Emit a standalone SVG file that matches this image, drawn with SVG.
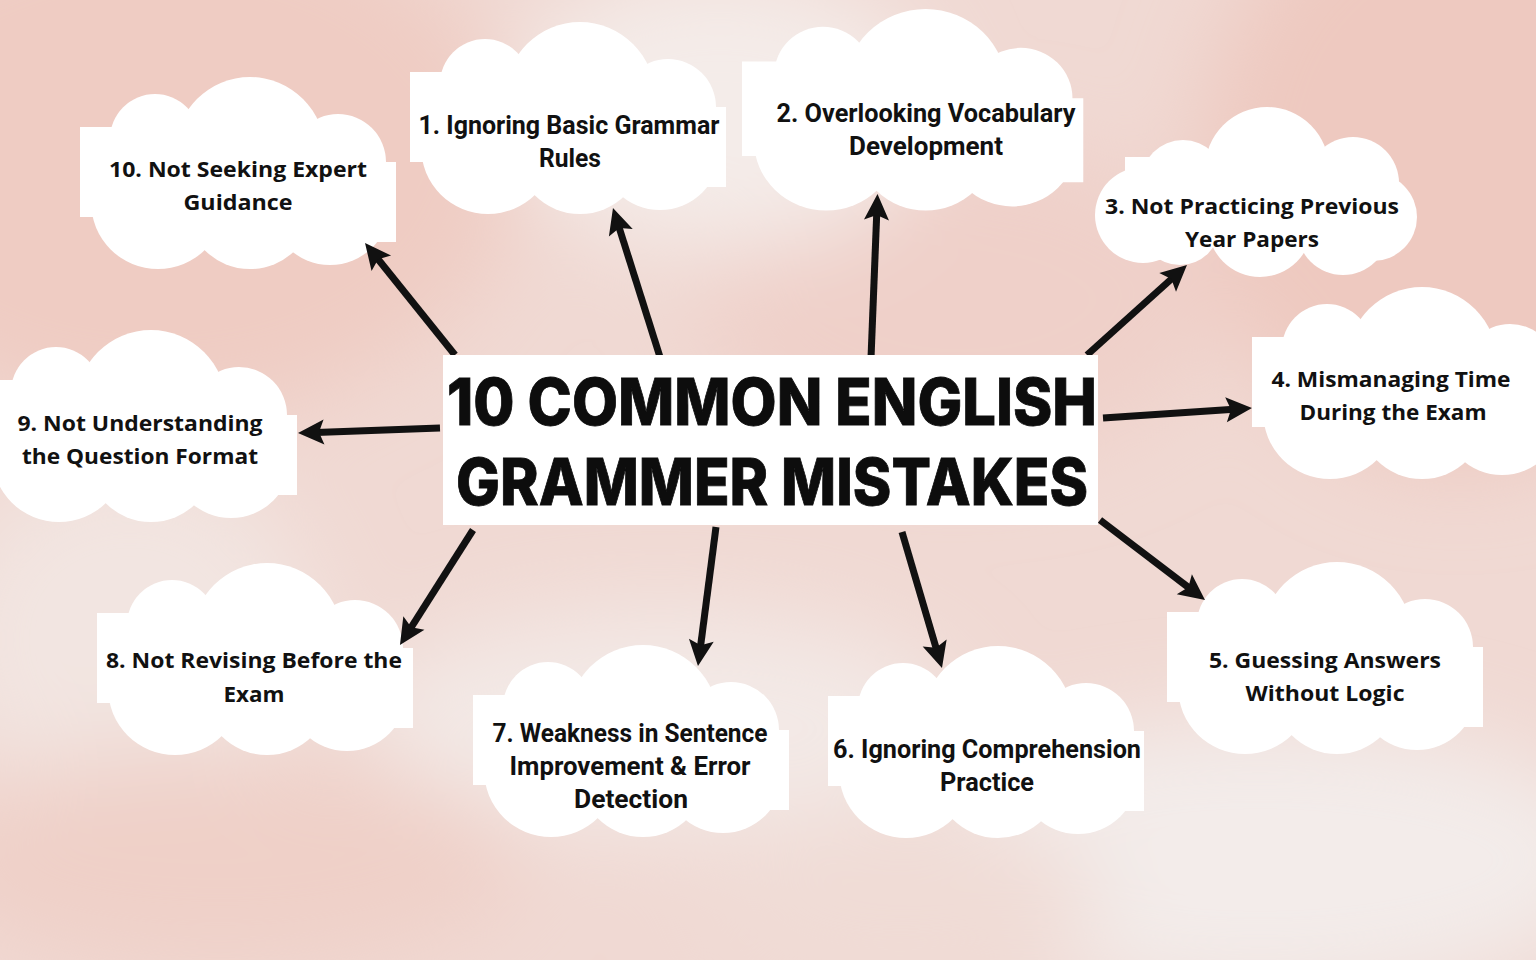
<svg xmlns="http://www.w3.org/2000/svg" width="1536" height="960" viewBox="0 0 1536 960">
<style>
  .cloud { fill: #ffffff; }
  .t { font-family: "Open Sans", "Noto Sans", "Liberation Sans", sans-serif; font-weight: 700; font-size: 22px; fill: #111111; text-anchor: middle; }
  .c { font-family: Roboto, "Open Sans", "Liberation Sans", sans-serif; font-weight: 700; font-size: 25px; fill: #111111; text-anchor: middle; }
  .title { font-family: Inter, Lato, "DejaVu Sans", sans-serif; font-weight: 800; font-size: 64px; fill: #0d0d0d; stroke: #0d0d0d; stroke-width: 0.8; }
  .arrow { fill: none; stroke: #111111; stroke-width: 7; stroke-linecap: butt; marker-end: url(#ah); }
</style>
<defs>
  <filter id="soft" x="-50%" y="-50%" width="200%" height="200%">
    <feGaussianBlur stdDeviation="45"/>
  </filter>
  <marker id="ah" markerUnits="userSpaceOnUse" viewBox="-10 -14 30 28" refX="0" refY="0" markerWidth="30" markerHeight="28" orient="auto" overflow="visible">
    <path d="M18,0 L-8,-12.5 L-3,0 L-8,12.5 Z" fill="#111111"/>
  </marker>
  <g id="cloudA" class="cloud">
    <rect x="0" y="50" width="160" height="90"/>
    <rect x="150" y="85" width="166" height="80"/>
    <circle cx="75" cy="62" r="45"/>
    <circle cx="170" cy="75" r="75"/>
    <circle cx="258" cy="85" r="48"/>
    <circle cx="78" cy="125" r="67"/>
    <circle cx="170" cy="128" r="64"/>
    <circle cx="250" cy="128" r="60"/>
  </g>
  <g id="cloudB" class="cloud">
    <rect x="30" y="50" width="262" height="90"/>
    <circle cx="48" cy="108" r="48"/>
    <circle cx="88" cy="75" r="42"/>
    <circle cx="172" cy="62" r="62"/>
    <circle cx="258" cy="76" r="46"/>
    <circle cx="278" cy="110" r="44"/>
    <circle cx="85" cy="118" r="40"/>
    <circle cx="165" cy="118" r="52"/>
    <circle cx="248" cy="122" r="46"/>
  </g>
</defs>

<g id="background">
  <rect x="0" y="0" width="1536" height="960" fill="#f0d9d3"/>
  <g filter="url(#soft)">
    <ellipse cx="160" cy="160" rx="360" ry="260" fill="#efccc3"/>
    <ellipse cx="1460" cy="170" rx="260" ry="300" fill="#eec9c0"/>
    <ellipse cx="960" cy="300" rx="260" ry="160" fill="#efd0c9"/>
    <ellipse cx="720" cy="110" rx="210" ry="140" fill="#f4ece9"/>
    <ellipse cx="1260" cy="860" rx="360" ry="140" fill="#f3ecea"/>
    <ellipse cx="130" cy="640" rx="190" ry="180" fill="#f2e5e1"/>
    <ellipse cx="660" cy="720" rx="300" ry="110" fill="#f3e9e6"/>
    <ellipse cx="220" cy="860" rx="300" ry="110" fill="#efd0c8"/>
    <ellipse cx="900" cy="900" rx="200" ry="90" fill="#f0dcd6"/>
  </g>
</g>

<g id="node-10">
  <use href="#cloudA" transform="translate(80,77)"/>
  <text class="t" x="238" y="177" textLength="258" lengthAdjust="spacingAndGlyphs">10. Not Seeking Expert</text>
  <text class="t" x="238" y="210" textLength="109" lengthAdjust="spacingAndGlyphs">Guidance</text>
</g>
<g id="node-1">
  <use href="#cloudA" transform="translate(410,22)"/>
  <text class="c" x="569" y="134" textLength="301" lengthAdjust="spacingAndGlyphs">1. Ignoring Basic Grammar</text>
  <text class="c" x="570" y="167" textLength="62" lengthAdjust="spacingAndGlyphs">Rules</text>
</g>
<g id="node-2">
  <use href="#cloudA" transform="translate(742,9) scale(1.08,1.05)"/>
  <text class="c" x="926" y="122" textLength="299" lengthAdjust="spacingAndGlyphs">2. Overlooking Vocabulary</text>
  <text class="c" x="926" y="155" textLength="154" lengthAdjust="spacingAndGlyphs">Development</text>
</g>
<g id="node-3">
  <use href="#cloudB" transform="translate(1095,107)"/>
  <text class="t" x="1252" y="214" textLength="294" lengthAdjust="spacingAndGlyphs">3. Not Practicing Previous</text>
  <text class="t" x="1252" y="247" textLength="134" lengthAdjust="spacingAndGlyphs">Year Papers</text>
</g>
<g id="node-4">
  <use href="#cloudA" transform="translate(1252,287)"/>
  <text class="t" x="1391" y="387" textLength="239" lengthAdjust="spacingAndGlyphs">4. Mismanaging Time</text>
  <text class="t" x="1393" y="420" textLength="187" lengthAdjust="spacingAndGlyphs">During the Exam</text>
</g>
<g id="node-5">
  <use href="#cloudA" transform="translate(1167,562)"/>
  <text class="t" x="1325" y="668" textLength="232" lengthAdjust="spacingAndGlyphs">5. Guessing Answers</text>
  <text class="t" x="1325" y="701" textLength="159" lengthAdjust="spacingAndGlyphs">Without Logic</text>
</g>
<g id="node-6">
  <use href="#cloudA" transform="translate(828,646)"/>
  <text class="c" x="987" y="758" textLength="308" lengthAdjust="spacingAndGlyphs">6. Ignoring Comprehension</text>
  <text class="c" x="987" y="791" textLength="94" lengthAdjust="spacingAndGlyphs">Practice</text>
</g>
<g id="node-7">
  <use href="#cloudA" transform="translate(473,645)"/>
  <text class="c" x="630" y="742" textLength="275" lengthAdjust="spacingAndGlyphs">7. Weakness in Sentence</text>
  <text class="c" x="630" y="775" textLength="241" lengthAdjust="spacingAndGlyphs">Improvement &amp; Error</text>
  <text class="c" x="631" y="808" textLength="114" lengthAdjust="spacingAndGlyphs">Detection</text>
</g>
<g id="node-8">
  <use href="#cloudA" transform="translate(97,563)"/>
  <text class="t" x="254" y="668" textLength="296" lengthAdjust="spacingAndGlyphs">8. Not Revising Before the</text>
  <text class="t" x="254" y="702" textLength="61" lengthAdjust="spacingAndGlyphs">Exam</text>
</g>
<g id="node-9">
  <use href="#cloudA" transform="translate(-19,330)"/>
  <text class="t" x="140" y="431" textLength="245" lengthAdjust="spacingAndGlyphs">9. Not Understanding</text>
  <text class="t" x="140" y="464" textLength="236" lengthAdjust="spacingAndGlyphs">the Question Format</text>
</g>

<g id="connectors">
  <path class="arrow" d="M455,355 L376.3,257"/>
  <path class="arrow" d="M660,357 L618.4,225.2"/>
  <path class="arrow" d="M871,358 L876.8,212"/>
  <path class="arrow" d="M1087,355 L1173.6,277"/>
  <path class="arrow" d="M1103,418 L1234,409.2"/>
  <path class="arrow" d="M1100,520 L1190.7,589.1"/>
  <path class="arrow" d="M902,532 L936.9,650.7"/>
  <path class="arrow" d="M716,527 L700.3,648.2"/>
  <path class="arrow" d="M473,530 L409.6,629.8"/>
  <path class="arrow" d="M440,428 L316,432.4"/>
</g>

<g id="title">
  <rect x="443" y="355" width="655" height="170" fill="#ffffff"/>
  <text class="title" x="447" y="425" textLength="650" lengthAdjust="spacingAndGlyphs">10 COMMON ENGLISH</text>
  <text class="title" x="456" y="505" textLength="632" lengthAdjust="spacingAndGlyphs">GRAMMER MISTAKES</text>
</g>
</svg>
